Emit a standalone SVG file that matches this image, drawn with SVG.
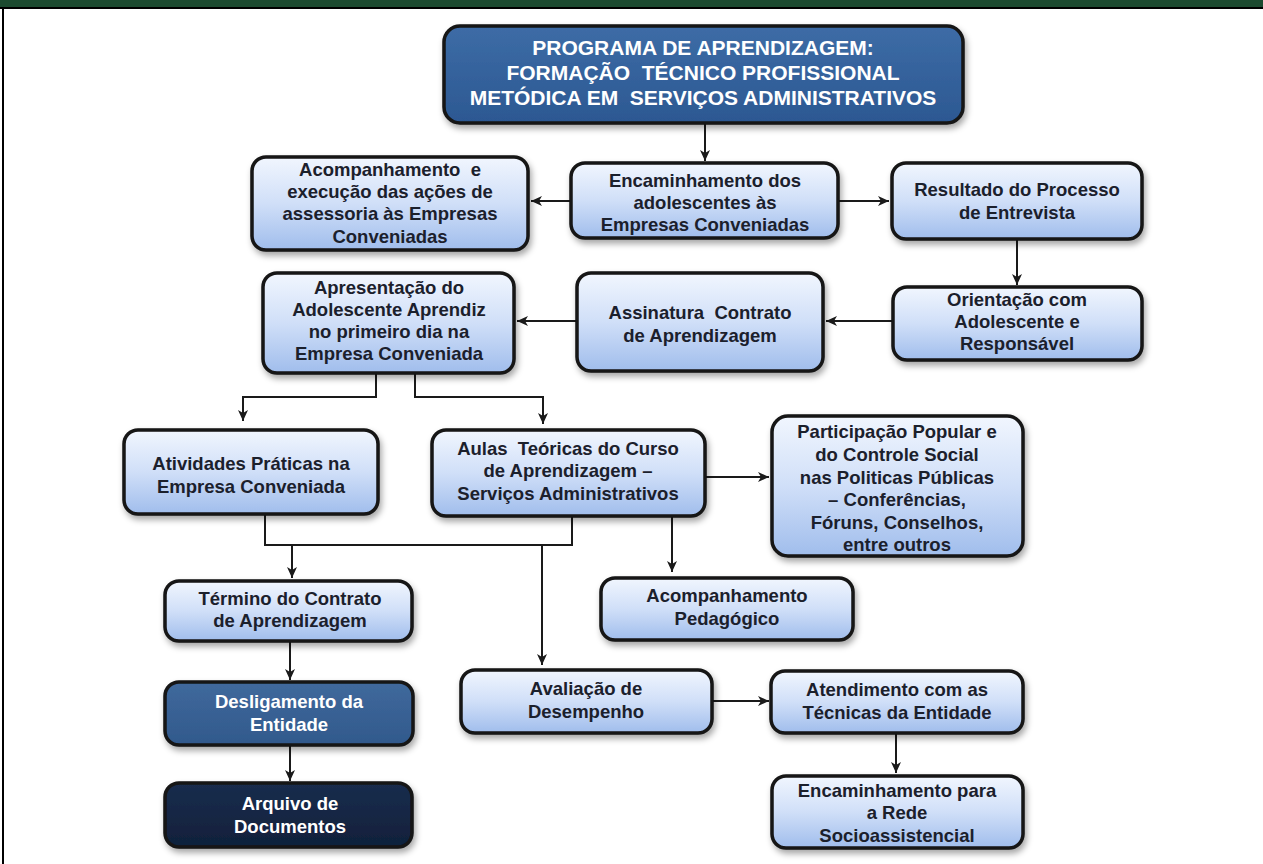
<svg xmlns="http://www.w3.org/2000/svg" width="1263" height="864" viewBox="0 0 1263 864">
<defs>
<linearGradient id="gLight" x1="0" y1="0" x2="0" y2="1">
<stop offset="0" stop-color="#f1f6fe"/>
<stop offset="0.5" stop-color="#d0dff8"/>
<stop offset="1" stop-color="#a0bdec"/>
</linearGradient>
<linearGradient id="gTop" x1="0" y1="0" x2="0" y2="1">
<stop offset="0" stop-color="#3d6ca6"/>
<stop offset="1" stop-color="#2c5892"/>
</linearGradient>
<linearGradient id="gMid" x1="0" y1="0" x2="0" y2="1">
<stop offset="0" stop-color="#40699c"/>
<stop offset="1" stop-color="#31598c"/>
</linearGradient>
<linearGradient id="gDark" x1="0" y1="0" x2="0" y2="1">
<stop offset="0" stop-color="#1a2d4d"/>
<stop offset="1" stop-color="#10203b"/>
</linearGradient>
<filter id="sh" x="-10%" y="-10%" width="125%" height="140%">
<feDropShadow dx="2" dy="4" stdDeviation="3" flood-color="#000" flood-opacity="0.35"/>
</filter>
<marker id="ah" markerUnits="userSpaceOnUse" markerWidth="12" markerHeight="12" refX="11" refY="6" orient="auto">
<path d="M0,1 L11,6 L0,11 L3,6 z" fill="#1a1a1a"/>
</marker>
</defs>
<style>
.box{stroke:#141414;stroke-width:3.5;filter:url(#sh)}
.lt{fill:url(#gLight)}
.t{font-family:"Liberation Sans",Arial,sans-serif;font-weight:bold;font-size:18.5px;fill:#1b202c;text-anchor:middle}
.w{font-family:"Liberation Sans",Arial,sans-serif;font-weight:bold;font-size:18.5px;fill:#ffffff;text-anchor:middle}
.ti{font-size:21px}
.c{fill:none;stroke:#1a1a1a;stroke-width:2}
</style>
<rect x="0" y="0" width="1263" height="864" fill="#ffffff"/>
<rect x="0" y="0" width="1263" height="7" fill="#1b4a2f"/>
<rect x="0" y="7" width="1263" height="2" fill="#000"/>
<rect x="2" y="8" width="2" height="856" fill="#000"/>

<g id="connectors">
<path class="c" d="M705,123 V161" marker-end="url(#ah)"/>
<path class="c" d="M571,201 H531" marker-end="url(#ah)"/>
<path class="c" d="M838,201 H889" marker-end="url(#ah)"/>
<path class="c" d="M1017,239 V285" marker-end="url(#ah)"/>
<path class="c" d="M893,321 H826" marker-end="url(#ah)"/>
<path class="c" d="M577,321 H517" marker-end="url(#ah)"/>
<path class="c" d="M376,373 V397 H243 V421" marker-end="url(#ah)"/>
<path class="c" d="M415,373 V397 H543 V424" marker-end="url(#ah)"/>
<path class="c" d="M705,477 H769" marker-end="url(#ah)"/>
<path class="c" d="M672,516 V572" marker-end="url(#ah)"/>
<path class="c" d="M265,514 V545 H572 V516"/>
<path class="c" d="M292,545 V578" marker-end="url(#ah)"/>
<path class="c" d="M542,545 V665" marker-end="url(#ah)"/>
<path class="c" d="M290,641 V680" marker-end="url(#ah)"/>
<path class="c" d="M290,745 V781" marker-end="url(#ah)"/>
<path class="c" d="M712,701 H769" marker-end="url(#ah)"/>
<path class="c" d="M896,733 V773" marker-end="url(#ah)"/>
</g>

<g id="n-programa">
<rect class="box" x="444" y="26" width="519" height="97" rx="16" fill="url(#gTop)"/>
<text class="w ti" x="703" y="55">PROGRAMA DE APRENDIZAGEM:</text>
<text class="w ti" x="703" y="80" xml:space="preserve">FORMAÇÃO  TÉCNICO PROFISSIONAL</text>
<text class="w ti" x="703" y="105" xml:space="preserve">METÓDICA EM  SERVIÇOS ADMINISTRATIVOS</text>
</g>

<g id="n-acompanhamento">
<rect class="box lt" x="252" y="157" width="276" height="93" rx="14"/>
<text class="t" x="390" y="176" xml:space="preserve">Acompanhamento  e</text>
<text class="t" x="390" y="198">execução das ações de</text>
<text class="t" x="390" y="220">assessoria às Empresas</text>
<text class="t" x="390" y="243">Conveniadas</text>
</g>

<g id="n-encaminhamento">
<rect class="box lt" x="571" y="163" width="267" height="75" rx="14"/>
<text class="t" x="705" y="187">Encaminhamento dos</text>
<text class="t" x="705" y="209">adolescentes às</text>
<text class="t" x="705" y="231">Empresas Conveniadas</text>
</g>

<g id="n-resultado">
<rect class="box lt" x="892" y="163" width="250" height="76" rx="14"/>
<text class="t" x="1017" y="196">Resultado do Processo</text>
<text class="t" x="1017" y="219">de Entrevista</text>
</g>

<g id="n-apresentacao">
<rect class="box lt" x="263" y="273" width="251" height="100" rx="14"/>
<text class="t" x="389" y="294">Apresentação do</text>
<text class="t" x="389" y="316">Adolescente Aprendiz</text>
<text class="t" x="389" y="338">no primeiro dia na</text>
<text class="t" x="389" y="360">Empresa Conveniada</text>
</g>

<g id="n-assinatura">
<rect class="box lt" x="577" y="273" width="246" height="98" rx="14"/>
<text class="t" x="700" y="319" xml:space="preserve">Assinatura  Contrato</text>
<text class="t" x="700" y="342">de Aprendizagem</text>
</g>

<g id="n-orientacao">
<rect class="box lt" x="893" y="287" width="249" height="73" rx="14"/>
<text class="t" x="1017" y="306">Orientação com</text>
<text class="t" x="1017" y="328">Adolescente e</text>
<text class="t" x="1017" y="350">Responsável</text>
</g>

<g id="n-atividades">
<rect class="box lt" x="124" y="430" width="254" height="84" rx="14"/>
<text class="t" x="251" y="470">Atividades Práticas na</text>
<text class="t" x="251" y="493">Empresa Conveniada</text>
</g>

<g id="n-aulas">
<rect class="box lt" x="432" y="430" width="273" height="86" rx="14"/>
<text class="t" x="568" y="455" xml:space="preserve">Aulas  Teóricas do Curso</text>
<text class="t" x="568" y="477">de Aprendizagem –</text>
<text class="t" x="568" y="500">Serviços Administrativos</text>
</g>

<g id="n-participacao">
<rect class="box lt" x="772" y="416" width="251" height="140" rx="16"/>
<text class="t" x="897" y="438">Participação Popular e</text>
<text class="t" x="897" y="461">do Controle Social</text>
<text class="t" x="897" y="484">nas Politicas Públicas</text>
<text class="t" x="897" y="506">– Conferências,</text>
<text class="t" x="897" y="529">Fóruns, Conselhos,</text>
<text class="t" x="897" y="551">entre outros</text>
</g>

<g id="n-termino">
<rect class="box lt" x="165" y="581" width="247" height="60" rx="14"/>
<text class="t" x="290" y="605">Término do Contrato</text>
<text class="t" x="290" y="627">de Aprendizagem</text>
</g>

<g id="n-pedagogico">
<rect class="box lt" x="601" y="578" width="252" height="62" rx="14"/>
<text class="t" x="727" y="602">Acompanhamento</text>
<text class="t" x="727" y="625">Pedagógico</text>
</g>

<g id="n-desligamento">
<rect class="box" x="165" y="682" width="248" height="63" rx="14" fill="url(#gMid)"/>
<text class="w" x="289" y="708">Desligamento da</text>
<text class="w" x="289" y="731">Entidade</text>
</g>

<g id="n-arquivo">
<rect class="box" x="165" y="783" width="247" height="64" rx="14" fill="url(#gDark)"/>
<text class="w" x="290" y="810">Arquivo de</text>
<text class="w" x="290" y="833">Documentos</text>
</g>

<g id="n-avaliacao">
<rect class="box lt" x="461" y="670" width="251" height="63" rx="14"/>
<text class="t" x="586" y="695">Avaliação de</text>
<text class="t" x="586" y="718">Desempenho</text>
</g>

<g id="n-atendimento">
<rect class="box lt" x="771" y="671" width="252" height="62" rx="14"/>
<text class="t" x="897" y="696">Atendimento com as</text>
<text class="t" x="897" y="719">Técnicas da Entidade</text>
</g>

<g id="n-rede">
<rect class="box lt" x="772" y="776" width="251" height="72" rx="14"/>
<text class="t" x="897" y="797">Encaminhamento para</text>
<text class="t" x="897" y="819">a Rede</text>
<text class="t" x="897" y="842">Socioassistencial</text>
</g>
</svg>
